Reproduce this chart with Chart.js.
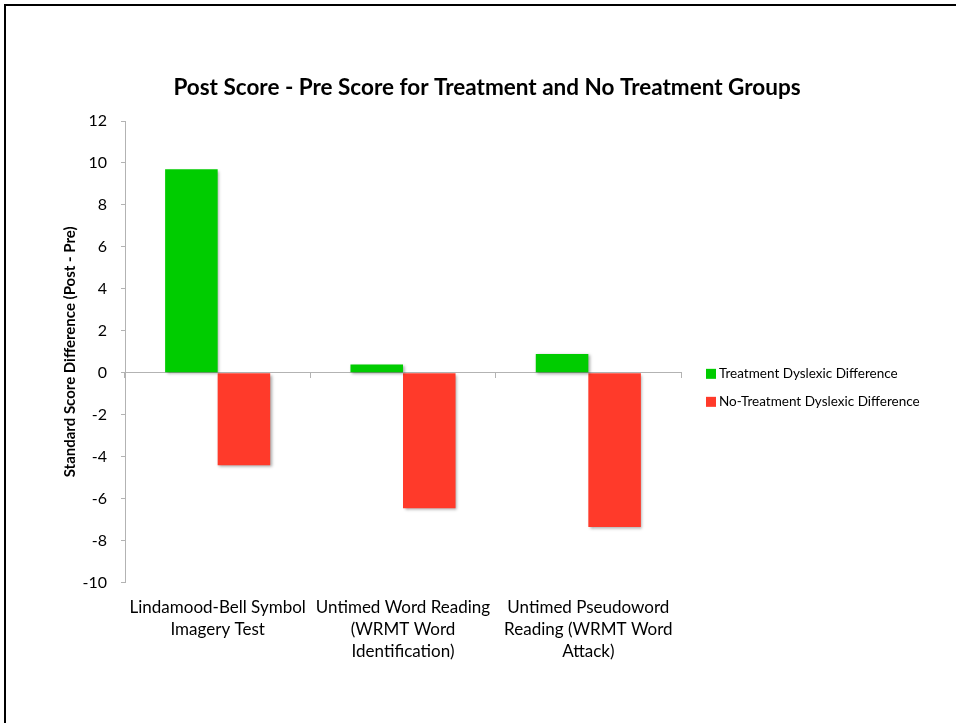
<!DOCTYPE html>
<html>
<head>
<meta charset="utf-8">
<title>Post Score - Pre Score</title>
<script src="https://cdn.jsdelivr.net/npm/chart.js@4"></script>
<style>
  html, body { margin: 0; padding: 0; background: #fff; overflow: hidden; }
  .edge-top { position: absolute; left: 4px; top: 4px; width: 952px; height: 2px; background: #000; }
  .edge-left { position: absolute; left: 4px; top: 4px; width: 2px; height: 719px; background: #000; }
  .wrap { position: absolute; left: 0; top: 0; width: 956px; height: 723px; }
</style>
</head>
<body>
<div class="edge-top"></div>
<div class="edge-left"></div>
<div class="wrap"><canvas id="chart" width="956" height="723"></canvas></div>
<script>
const categories = [
  ["Lindamood-Bell Symbol", "Imagery Test"],
  ["Untimed Word Reading", "(WRMT Word", "Identification)"],
  ["Untimed Pseudoword", "Reading (WRMT Word", "Attack)"],
];
const seriesNames = ["Treatment Dyslexic Difference", "No-Treatment Dyslexic Difference"];
const treatmentDiff = [9.7, 0.4, 0.9];
const noTreatmentDiff = [-4.4, -6.45, -7.35];
const yTicks = [-10, -8, -6, -4, -2, 0, 2, 4, 6, 8, 10, 12];
const chartTitle = "Post Score - Pre Score for Treatment and No Treatment Groups";

const FONT = "Lato, 'Open Sans', sans-serif";
const AXIS_GREY = "#b3b3b3";

Chart.defaults.font.family = FONT;
Chart.defaults.color = "#000";

// soft drop shadow under the bars
const barShadow = {
  id: "barShadow",
  beforeDatasetsDraw(chart) {
    const ctx = chart.ctx;
    ctx.save();
    ctx.shadowColor = "rgba(0,0,0,0.35)";
    ctx.shadowBlur = 3;
    ctx.shadowOffsetX = 1.5;
    ctx.shadowOffsetY = 1.5;
  },
  afterDatasetsDraw(chart) {
    chart.ctx.restore();
  },
};

// title centred on the whole page, legend to the right of the plot
const pageText = {
  id: "pageText",
  afterDraw(chart) {
    const ctx = chart.ctx;
    const area = chart.chartArea;
    ctx.save();
    ctx.fillStyle = "#000";
    ctx.font = "bold 22.5px " + FONT;
    ctx.textAlign = "center";
    ctx.textBaseline = "middle";
    ctx.fillText(chartTitle, 487, 88);

    const x = area.right + 25;
    let y = chart.scales.y.getPixelForValue(0) + 1;
    ctx.font = "13.5px " + FONT;
    ctx.textAlign = "left";
    chart.data.datasets.forEach((ds) => {
      ctx.fillStyle = ds.backgroundColor;
      ctx.fillRect(x, y - 5, 10, 10);
      ctx.fillStyle = "#000";
      ctx.fillText(ds.label, x + 13, y);
      y += 28;
    });
    ctx.restore();
  },
};

new Chart(document.getElementById("chart"), {
  type: "bar",
  data: {
    labels: categories,
    datasets: [
      {
        label: seriesNames[0],
        data: treatmentDiff,
        backgroundColor: "#00cc00",
        xAxisID: "x",
      },
      {
        label: seriesNames[1],
        data: noTreatmentDiff,
        backgroundColor: "#ff3a2a",
        xAxisID: "x",
      },
    ],
  },
  options: {
    responsive: false,
    animation: false,
    layout: { padding: { left: 52, right: 275, top: 121, bottom: 54 } },
    datasets: {
      bar: { categoryPercentage: 0.567, barPercentage: 1.0 },
    },
    plugins: {
      legend: { display: false },
      tooltip: { enabled: false },
      title: { display: false },
    },
    scales: {
      // zero line with category separators
      x: {
        type: "category",
        position: { y: 0 },
        offset: true,
        grid: {
          display: true,
          offset: true,
          drawOnChartArea: false,
          tickLength: 5,
          color: AXIS_GREY,
        },
        border: { display: true, color: AXIS_GREY, width: 1 },
        ticks: { display: false },
      },
      // category labels along the bottom
      x2: {
        type: "category",
        position: "bottom",
        labels: categories,
        offset: true,
        grid: { display: false },
        border: { display: false },
        ticks: {
          maxRotation: 0,
          autoSkip: false,
          padding: 6,
          font: { size: 17, lineHeight: 1.3 },
          color: "#000",
        },
      },
      y: {
        min: -10,
        max: 12,
        afterBuildTicks(scale) {
          scale.ticks = yTicks.map((v) => ({ value: v }));
        },
        afterFit(scale) {
          scale.width = 73;
        },
        grid: {
          display: true,
          drawOnChartArea: false,
          tickLength: 4,
          color: AXIS_GREY,
        },
        border: { display: true, color: AXIS_GREY, width: 1 },
        ticks: {
          padding: 14,
          font: { size: 16 },
          color: "#000",
        },
        title: {
          display: true,
          text: "Standard Score Difference (Post - Pre)",
          font: { size: 15, weight: "bold" },
          color: "#000",
          padding: { top: 9, bottom: 0 },
        },
      },
    },
  },
  plugins: [barShadow, pageText],
});
</script>
</body>
</html>
